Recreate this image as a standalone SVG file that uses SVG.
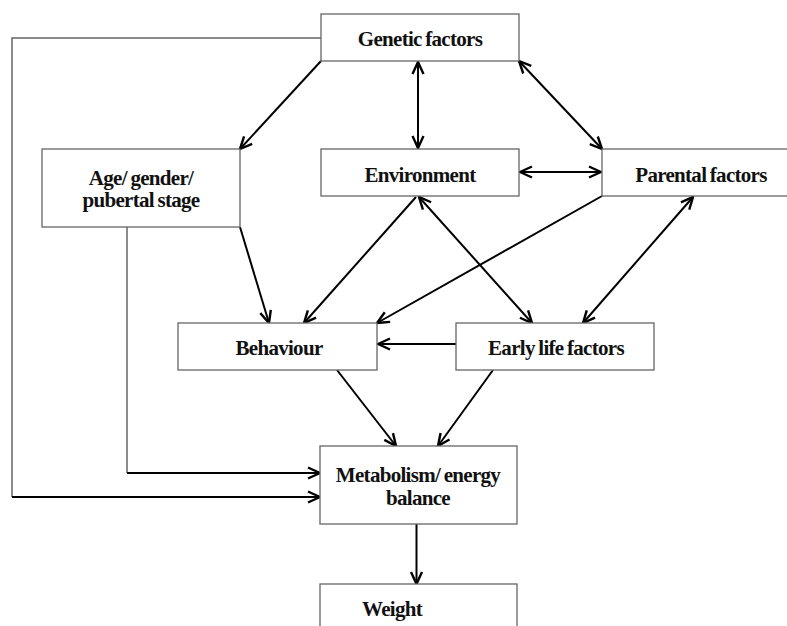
<svg xmlns="http://www.w3.org/2000/svg" width="787" height="626" viewBox="0 0 787 626">
<style>
.box{fill:#fff;stroke:#666;stroke-width:1.3}
.t{font-family:'Liberation Serif','Times New Roman',serif;font-weight:700;font-size:21px;letter-spacing:-0.7px;word-spacing:-1px;fill:#111;text-anchor:middle}
.c{fill:none;stroke:#000;stroke-width:2}
.g{fill:none;stroke:#666;stroke-width:1.5}
</style>
<defs>
<marker id="a" viewBox="0 0 14 14" refX="13" refY="7" markerWidth="14" markerHeight="14" markerUnits="userSpaceOnUse" orient="auto-start-reverse">
<path d="M1,1.5 L13,7 L1,12.5" fill="none" stroke="#000" stroke-width="2.4"/>
</marker>
</defs>
<g id="connectors">
<path class="g" d="M321,38 H12 V497"/>
<path class="c" d="M12,497 H320" marker-end="url(#a)"/>
<path class="g" d="M127,227 V473"/>
<path class="c" d="M127,473 H320" marker-end="url(#a)"/>
<path class="c" d="M321,61 L240,149" marker-end="url(#a)"/>
<path class="c" d="M418,62 V148" marker-start="url(#a)" marker-end="url(#a)"/>
<path class="c" d="M519,61 L602,149" marker-start="url(#a)" marker-end="url(#a)"/>
<path class="c" d="M520,172 H601" marker-start="url(#a)" marker-end="url(#a)"/>
<path class="c" d="M240,227 L269,323" marker-end="url(#a)"/>
<path class="c" d="M416,197 L304,323" marker-end="url(#a)"/>
<path class="c" d="M419,197 L532,323" marker-start="url(#a)" marker-end="url(#a)"/>
<path class="c" d="M602,196 L377,323" marker-end="url(#a)"/>
<path class="c" d="M693,197 L583,323" marker-start="url(#a)" marker-end="url(#a)"/>
<path class="c" d="M456,344 H378" marker-end="url(#a)"/>
<path class="c" d="M337,370 L396,446" marker-end="url(#a)"/>
<path class="c" d="M493,370 L438,446" marker-end="url(#a)"/>
<path class="c" d="M416.5,524 V584" marker-end="url(#a)"/>
</g>
<g id="genetic"><rect class="box" x="321" y="14" width="198" height="47"/><text class="t" x="420" y="46">Genetic factors</text></g>
<g id="age"><rect class="box" x="42" y="149" width="198" height="78"/><text class="t" x="141" y="185">Age/ gender/</text><text class="t" x="141" y="207">pubertal stage</text></g>
<g id="environment"><rect class="box" x="321" y="149" width="198" height="47"/><text class="t" x="420" y="182">Environment</text></g>
<g id="parental"><rect class="box" x="602" y="149" width="198" height="47"/><text class="t" x="701" y="182">Parental factors</text></g>
<g id="behaviour"><rect class="box" x="178" y="323" width="199" height="47"/><text class="t" x="279" y="355">Behaviour</text></g>
<g id="earlylife"><rect class="box" x="456" y="323" width="198" height="47"/><text class="t" x="556" y="355">Early life factors</text></g>
<g id="metabolism"><rect class="box" x="320" y="446" width="197" height="78"/><text class="t" x="418" y="482">Metabolism/ energy</text><text class="t" x="418" y="505">balance</text></g>
<g id="weight"><rect class="box" x="320" y="584" width="197" height="60"/><text class="t" x="392" y="616">Weight</text></g>
</svg>
